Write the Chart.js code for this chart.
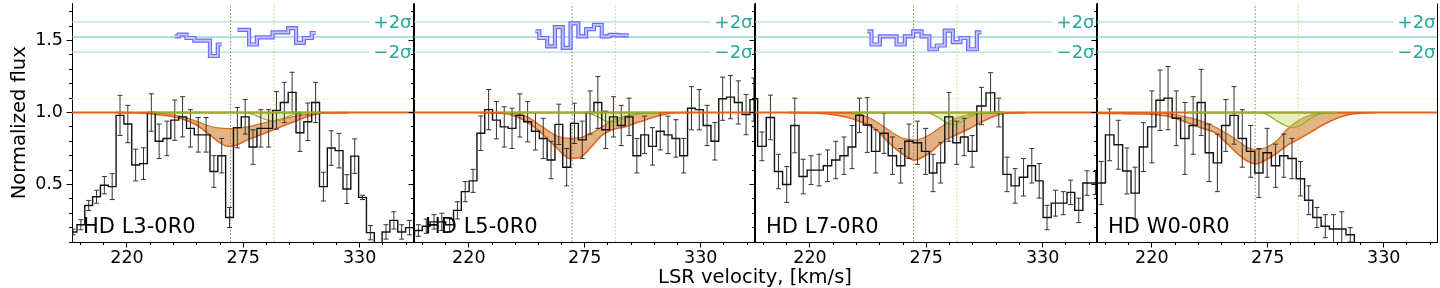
<!DOCTYPE html>
<html>
<head>
<meta charset="utf-8">
<script src="https://cdn.jsdelivr.net/npm/chart.js@4.4.1/dist/chart.umd.min.js"></script>
<style>
  html, body { margin:0; padding:0; background:#ffffff; }
  #fig { position:relative; width:1440px; height:288px; overflow:hidden; background:#fff; }
  #fig canvas { position:absolute; top:0; }
  #xtitle { position:absolute; left:555px; width:400px; top:266px; text-align:center;
            font:19.5px "DejaVu Sans", sans-serif; color:#000; line-height:22px; }
</style>
</head>
<body>
<div id="fig">
  <canvas id="c0"></canvas>
  <canvas id="c1"></canvas>
  <canvas id="c2"></canvas>
  <canvas id="c3"></canvas>
  <div id="xtitle">LSR velocity, [km/s]</div>
</div>
<script>
// ---------------- data ----------------
const PANEL_NAMES = ['HD L3-0R0', 'HD L5-0R0', 'HD L7-0R0', 'HD W0-0R0'];
const X_MAJOR = [220, 275, 330];
const Y_MAJOR = [0.5, 1.0, 1.5];
const COMP_VEL = [269, 289.5];
const SIGMA_HI = 1.63, SIGMA_MID = 1.525, SIGMA_LO = 1.42;
const SIGMA_LABELS = ['+2σ', '−2σ'];
const CONTINUUM = 1.0;
const HALO = 1.095;

// Panel 1 (HD L3-0R0)
const VEL_P1 = [194.5,198.2,201.9,205.6,209.3,213.0,216.7,220.4,224.1,227.8,231.5,235.2,238.9,242.6,246.3,250.0,253.7,257.4,261.1,264.8,268.5,272.2,275.9,279.6,283.3,287.0,290.7,294.4,298.1,301.8,305.5,309.2,312.9,316.6,320.3,324.0,327.7,331.4,335.1,338.8,342.5,346.2,349.9,353.6,357.3];
const FLUX_P1 = [0.17,0.22,0.354,0.415,0.495,0.485,0.98,0.92,0.635,0.645,1.0,0.80,0.82,0.947,0.97,0.89,0.845,0.845,0.59,0.70,0.27,0.895,0.97,0.76,0.89,0.89,1.015,1.07,1.14,0.86,0.936,1.07,0.485,0.753,0.735,0.468,0.697,0.41,0.165,0.05,0.17,0.25,0.17,0.2,0.2];
const ERR_P1 = [0.02,0.035,0.035,0.045,0.06,0.09,0.14,0.13,0.11,0.11,0.13,0.12,0.12,0.14,0.14,0.13,0.12,0.12,0.11,0.12,0.07,0.14,0.12,0.12,0.13,0.13,0.13,0.14,0.14,0.13,0.13,0.14,0.1,0.12,0.12,0.1,0.12,0.015,0.05,null,0.05,0.06,0.05,0.05,null];
const RESID_P1 = [null,null,null,null,null,null,null,null,null,null,null,null,null,1.53,1.541,1.518,1.50,1.50,1.393,1.473,null,1.575,1.575,1.473,1.523,1.523,1.557,1.557,1.587,1.484,1.518,1.553,null,null,null,null,null,null,null,null,null,null,null,null,null];
const MODEL_V_P1 = [215,225,235,245,252,258,263,268,272,277,284,291,298,305,310,316,325];
const UPPER_P1 = [1.0,1.0,0.995,0.975,0.945,0.91,0.893,0.888,0.89,0.90,0.925,0.95,0.97,0.985,0.995,1.0,1.0];
const LOWER_P1 = [1.0,0.998,0.985,0.96,0.92,0.86,0.80,0.765,0.775,0.81,0.85,0.89,0.93,0.97,0.99,0.998,1.0];
const GREEN_V_P1 = [232,276,280,284,287,289.5,292,295,299,303,312];
const GREEN_P1 = [1.0,1.0,0.985,0.96,0.945,0.94,0.945,0.965,0.99,1.0,1.0];

// Panel 2 (HD L5-0R0)
const VEL_P2 = [192.4,196.1,199.8,203.5,207.2,210.9,214.6,218.3,222.0,225.7,229.4,233.1,236.8,240.5,244.2,247.9,251.6,255.3,259.0,262.7,266.4,270.1,273.8,277.5,281.2,284.9,288.6,292.3,296.0,299.7,303.4,307.1,310.8,314.5,318.2,321.9,325.6,329.3,333.0,336.7,340.4,344.1,347.8,351.5,355.2,358.9];
const FLUX_P2 = [0.14,0.18,0.21,0.24,0.24,0.22,0.32,0.45,0.525,0.856,1.02,0.947,0.90,0.89,0.98,0.936,0.87,0.82,0.67,0.918,0.62,0.925,0.81,1.0,1.07,0.88,0.97,0.91,0.97,0.70,0.845,0.765,0.87,0.845,0.82,0.70,1.03,1.02,0.91,0.80,1.096,1.107,1.07,0.986,1.09,1.09];
const ERR_P2 = [0.04,0.04,0.05,0.05,0.06,0.05,0.06,0.07,0.08,0.12,0.14,0.13,0.14,0.14,0.15,0.14,0.13,0.14,0.13,0.14,0.13,0.14,0.13,0.15,0.18,0.13,0.14,0.14,0.13,0.12,0.13,0.13,0.13,0.13,0.13,0.12,0.15,0.14,0.14,0.13,0.15,0.15,0.15,0.14,0.15,null];
const RESID_P2 = [null,null,null,null,null,null,null,null,null,null,null,null,null,null,null,null,1.564,1.518,1.46,1.594,1.45,1.62,1.53,1.58,1.61,1.53,1.54,1.536,1.536,null,null,null,null,null,null,null,null,null,null,null,null,null,null,null,null,null];
const MODEL_V_P2 = [225,232,240,247,255,262,268,273,278,283,288,294,300,306,312,318,325];
const UPPER_P2 = [1.0,1.0,0.995,0.975,0.90,0.835,0.82,0.825,0.855,0.90,0.945,0.975,0.99,0.998,1.0,1.0,1.0];
const LOWER_P2 = [1.0,0.998,0.985,0.94,0.85,0.75,0.68,0.69,0.76,0.84,0.88,0.90,0.93,0.96,0.985,0.998,1.0];
const GREEN_V_P2 = [236,275,279,283,286,289,292,296,300,304,310];
const GREEN_P2 = [1.0,1.0,0.985,0.955,0.935,0.935,0.95,0.975,0.993,1.0,1.0];

// Panel 3 (HD L7-0R0)
const VEL_P3 = [193.2,197.3,201.3,205.1,209.0,212.8,216.8,220.5,224.3,228.3,232.2,236.1,239.9,243.4,247.1,251.1,255.0,259.0,262.9,266.8,270.8,274.7,278.2,281.8,285.7,289.4,292.9,296.7,301.1,305.4,309.3,313.2,317.0,321.0,324.9,328.4,332.1,336.1,339.8,343.3,347.1,351.0,355.0,359.0];
const FLUX_P3 = [1.096,0.765,0.966,0.59,0.50,0.91,0.555,0.60,0.60,0.63,0.67,0.70,0.76,0.98,0.913,0.73,0.856,0.70,0.63,0.80,0.79,0.73,0.58,0.65,0.97,0.79,0.83,0.73,1.045,1.137,1.0,0.57,0.49,0.55,0.63,0.525,0.27,0.37,0.37,0.445,0.32,0.51,0.51,0.51];
const ERR_P3 = [0.15,0.10,0.155,0.12,0.125,0.19,0.12,0.10,0.11,0.11,0.13,0.13,0.15,0.12,0.19,0.15,0.14,0.13,0.12,0.12,0.15,0.16,0.13,0.14,0.17,0.15,0.13,0.11,0.13,0.14,0.10,0.12,0.12,0.13,0.12,0.12,0.085,0.09,0.08,0.085,0.085,0.085,0.08,null];
const RESID_P3 = [null,null,null,null,null,null,null,null,null,null,null,null,null,null,1.564,1.473,1.53,1.53,1.473,1.53,1.564,1.53,1.44,1.466,1.57,1.49,1.518,1.44,1.557,null,null,null,null,null,null,null,null,null,null,null,null,null,null,null];
const MODEL_V_P3 = [210,220,231,238,244,251,258,264,269.5,276,283,289,295,300,308,314,322];
const UPPER_P3 = [1.0,1.0,1.0,0.995,0.985,0.94,0.87,0.82,0.808,0.84,0.91,0.96,0.985,0.995,1.0,1.0,1.0];
const LOWER_P3 = [1.0,0.998,0.985,0.965,0.936,0.885,0.78,0.71,0.67,0.715,0.80,0.845,0.885,0.925,0.98,0.997,1.0];
const GREEN_V_P3 = [240,275,279,283,286,288.5,291,295,299,303,312];
const GREEN_P3 = [1.0,1.0,0.98,0.945,0.92,0.915,0.93,0.965,0.99,1.0,1.0];

// Panel 4 (HD W0-0R0)
const VEL_P4 = [192.1,196.0,200.0,204.1,208.2,212.1,216.0,220.0,223.9,227.7,231.6,235.7,239.6,243.4,247.2,251.1,255.1,259.0,262.9,266.9,270.8,274.7,278.7,282.6,286.5,290.5,294.4,298.3,302.3,306.2,310.1,314.1,318.0];
const FLUX_P4 = [0.51,0.51,0.845,0.776,0.594,0.44,0.76,0.90,1.085,1.10,0.96,0.82,0.91,1.07,0.72,0.65,0.91,0.98,0.82,0.73,0.58,0.72,0.63,0.70,0.68,0.54,0.39,0.27,0.21,0.19,0.19,0.15,-0.2];
const ERR_P4 = [0.15,0.15,0.18,0.17,0.16,0.18,0.17,0.25,0.21,0.22,0.19,0.25,0.2,0.23,0.2,0.2,0.18,0.2,0.2,0.18,0.17,0.17,0.15,0.15,0.14,0.12,0.1,0.07,0.08,0.1,0.12,0.05,null];
const RESID_P4 = [];
const MODEL_V_P4 = [194,205,215,222,229,236,244,250,256,261,265,269.5,274,279,284,289,295,301,307,313,319,326];
const UPPER_P4 = [1.0,1.0,1.0,1.0,0.99,0.97,0.938,0.90,0.85,0.80,0.76,0.742,0.755,0.80,0.88,0.94,0.98,0.995,1.0,1.0,1.0,1.0];
const LOWER_P4 = [0.995,0.993,0.99,0.985,0.97,0.935,0.89,0.86,0.78,0.71,0.665,0.644,0.67,0.715,0.77,0.81,0.86,0.913,0.955,0.985,0.995,1.0];
const GREEN_V_P4 = [237,272,276,280,284,286.5,289,292,296,300,304,308];
const GREEN_P4 = [1.0,1.0,0.975,0.935,0.905,0.895,0.9,0.925,0.965,0.99,1.0,1.0];

const PANELS = [
  {vel:VEL_P1, flux:FLUX_P1, err:ERR_P1, resid:RESID_P1, mv:MODEL_V_P1, up:UPPER_P1, lo:LOWER_P1, gv:GREEN_V_P1, g:GREEN_P1},
  {vel:VEL_P2, flux:FLUX_P2, err:ERR_P2, resid:RESID_P2, mv:MODEL_V_P2, up:UPPER_P2, lo:LOWER_P2, gv:GREEN_V_P2, g:GREEN_P2},
  {vel:VEL_P3, flux:FLUX_P3, err:ERR_P3, resid:RESID_P3, mv:MODEL_V_P3, up:UPPER_P3, lo:LOWER_P3, gv:GREEN_V_P3, g:GREEN_P3},
  {vel:VEL_P4, flux:FLUX_P4, err:ERR_P4, resid:RESID_P4, mv:MODEL_V_P4, up:UPPER_P4, lo:LOWER_P4, gv:GREEN_V_P4, g:GREEN_P4}
];

// ---------------- layout / style ----------------
const X_MIN = 194, X_MAX = 355.5, Y_MIN = 0.1, Y_MAX = 1.758;
const PANEL_LEFT = [72, 414, 755, 1097];
const PANEL_RIGHT = [414, 755, 1097, 1438];
const AXIS_W = 72, AXIS_H = 46, PAD_R = 3, H = 288;
const FONT = '"DejaVu Sans"';
const C = {
  sigma: '#9ad8d0', sigmaMid: '#62c4bb', sigmaText: '#2aa69b',
  halo: '#fbefd6', orange: '#e2631e', band: 'rgba(206,128,48,0.6)',
  green: '#8cb42e', greenFill: 'rgba(185,210,90,0.4)',
  comp1: '#7a8a3c', comp2: '#d2d27a',
  data: '#111111', err: '#333333',
  residOuter: '#6a6aff', residInner: '#c4c4ff'
};

function pts(xs, ys) { return xs.map((x, i) => ({x: x, y: ys[i]})); }
function hline(v) { return [{x: X_MIN, y: v}, {x: X_MAX, y: v}]; }
function vline(v) { return [{x: v, y: Y_MIN}, {x: v, y: Y_MAX}]; }
function errSegs(p) {
  const out = [];
  p.vel.forEach((x, i) => {
    if (p.err[i] == null) return;
    out.push({x: x, y: p.flux[i] - p.err[i]});
    out.push({x: x, y: p.flux[i] + p.err[i]});
    out.push({x: x, y: null});
  });
  return out;
}
function errCaps(p) {
  const out = [];
  p.vel.forEach((x, i) => {
    if (p.err[i] == null) return;
    out.push({x: x, y: p.flux[i] - p.err[i]});
    out.push({x: x, y: p.flux[i] + p.err[i]});
  });
  return out;
}
function line(data, color, width, order, extra) {
  return Object.assign({data: data, borderColor: color, borderWidth: width, pointRadius: 0, fill: false, order: order}, extra || {});
}

const decor = {
  id: 'decor',
  afterDatasetsDraw(chart, args, opts) {
    const {ctx, chartArea: a, scales: {y}} = chart;
    ctx.save();
    ctx.font = '18px ' + FONT;
    ctx.textAlign = 'right';
    ctx.textBaseline = 'middle';
    [[SIGMA_HI, SIGMA_LABELS[0]], [SIGMA_LO, SIGMA_LABELS[1]]].forEach(([v, t]) => {
      const py = y.getPixelForValue(v);
      const w = ctx.measureText(t).width;
      ctx.fillStyle = '#ffffff';
      ctx.fillRect(a.right - 2 - w - 4, py - 9, w + 5, 18);
      ctx.fillStyle = C.sigmaText;
      ctx.fillText(t, a.right - 2, py + 1);
    });
    ctx.font = '21px ' + FONT;
    ctx.textAlign = 'left';
    ctx.textBaseline = 'alphabetic';
    ctx.fillStyle = '#000';
    ctx.fillText(opts.name, a.left + 11, a.bottom - 9);
    ctx.restore();
  },
  afterDraw(chart) {
    const {ctx, chartArea: a, scales: {x, y}} = chart;
    const al = p => Math.round(p - 0.5) + 0.5;
    ctx.save();
    ctx.strokeStyle = '#000';
    ctx.lineWidth = 1;
    ctx.beginPath();
    X_MAJOR.forEach(v => { const px = al(x.getPixelForValue(v)); ctx.moveTo(px, a.bottom); ctx.lineTo(px, a.bottom + 5.5); });
    Y_MAJOR.forEach(v => { const py = al(y.getPixelForValue(v)); ctx.moveTo(a.left, py); ctx.lineTo(a.left - 5.5, py); });
    ctx.moveTo(al(a.right), a.top);
    ctx.lineTo(al(a.right), a.bottom);
    ctx.stroke();
    ctx.restore();
  }
};

function isMajor(v, list) { return list.some(m => Math.abs(m - v) < 1e-6); }

PANELS.forEach((p, i) => {
  const cv = document.getElementById('c' + i);
  const w = AXIS_W + (PANEL_RIGHT[i] - PANEL_LEFT[i]) + PAD_R;
  cv.width = w; cv.height = H;
  cv.style.width = w + 'px'; cv.style.height = H + 'px';
  cv.style.left = (PANEL_LEFT[i] - AXIS_W) + 'px';

  const ds = [];
  ds.push(line(hline(SIGMA_HI), C.sigma, 1, 100));
  ds.push(line(hline(SIGMA_MID), C.sigmaMid, 1, 100));
  ds.push(line(hline(SIGMA_LO), C.sigma, 1, 100));
  ds.push(line(hline(HALO), C.halo, 1, 99));
  ds.push(line(vline(COMP_VEL[0]), C.comp1, 1, 98, {borderDash: [1.5, 2]}));
  ds.push(line(vline(COMP_VEL[1]), C.comp2, 1, 98, {borderDash: [1.5, 2]}));
  ds.push(line(pts(p.mv, p.up), C.orange, 1.2, 80, {cubicInterpolationMode: 'monotone'}));
  ds.push(line(pts(p.mv, p.lo), C.orange, 1.6, 79, {cubicInterpolationMode: 'monotone', fill: '-1', backgroundColor: C.band}));
  ds.push(line(pts(p.gv, p.g), C.green, 1.2, 78, {cubicInterpolationMode: 'monotone', fill: {value: CONTINUUM}, backgroundColor: C.greenFill}));
  ds.push(line(errSegs(p), C.err, 1, 30));
  ds.push({data: errCaps(p), showLine: false, pointStyle: 'line', pointRadius: 2.5, pointBorderColor: C.err, pointBorderWidth: 1, borderColor: C.err, order: 30});
  ds.push(line(pts(p.vel, p.flux), C.data, 1.4, 25, {stepped: 'middle'}));
  ds.push(line(hline(CONTINUUM), C.orange, 2, 20));
  ds.push(line([{x: p.gv[0], y: CONTINUUM}, {x: p.gv[p.gv.length - 1], y: CONTINUUM}], C.green, 1.5, 19));
  if (p.resid.length) {
    ds.push(line(pts(p.vel, p.resid), C.residOuter, 4.2, 12, {stepped: 'middle'}));
    ds.push(line(pts(p.vel, p.resid), C.residInner, 1.8, 11, {stepped: 'middle'}));
  }

  new Chart(cv.getContext('2d'), {
    type: 'line',
    data: {datasets: ds},
    options: {
      responsive: false,
      animation: false,
      devicePixelRatio: 1,
      layout: {padding: {left: 0, right: PAD_R, top: 0, bottom: 0}},
      elements: {point: {radius: 0, hoverRadius: 0}, line: {tension: 0}},
      plugins: {legend: {display: false}, tooltip: {enabled: false}, decor: {name: PANEL_NAMES[i]}},
      events: [],
      scales: {
        x: {
          type: 'linear', min: X_MIN, max: X_MAX,
          ticks: {
            stepSize: 11, autoSkip: false, maxRotation: 0, includeBounds: false, padding: 3,
            color: '#000', font: {family: 'DejaVu Sans', size: 17.5},
            callback: v => isMajor(v, X_MAJOR) ? String(Math.round(v)) : ''
          },
          grid: {drawOnChartArea: false, drawTicks: true, tickLength: 3, color: '#000', tickWidth: 1},
          border: {display: true, color: '#000', width: 1},
          afterFit(s) { s.height = AXIS_H; s.paddingLeft = 0; s.paddingRight = 0; }
        },
        y: {
          type: 'linear', min: Y_MIN, max: Y_MAX,
          ticks: {
            stepSize: 0.1, autoSkip: false, includeBounds: false, padding: 6,
            color: '#000', font: {family: 'DejaVu Sans', size: 17.5},
            callback: v => (i === 0 && isMajor(v, Y_MAJOR)) ? v.toFixed(1) : ''
          },
          grid: {drawOnChartArea: false, drawTicks: true, tickLength: 3, color: '#000', tickWidth: 1},
          border: {display: true, color: '#000', width: 1},
          title: {display: i === 0, text: 'Normalized flux', color: '#000',
                  font: {family: 'DejaVu Sans', size: 19.5}, padding: {top: 8, bottom: 0}},
          afterFit(s) { s.width = AXIS_W; s.paddingTop = 0; s.paddingBottom = 0; }
        }
      }
    },
    plugins: [decor]
  });
});
</script>
</body>
</html>
